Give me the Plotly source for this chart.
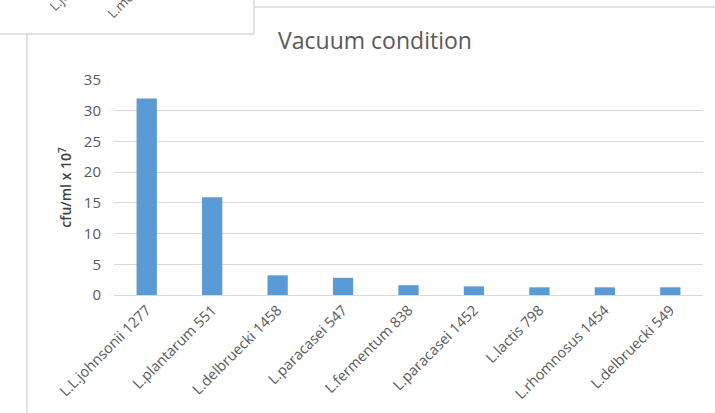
import plotly.graph_objects as go

categories = ["L.L.johnsonii 1277", "L.plantarum 551", "L.delbruecki 1458",
              "L.paracasei 547", "L.fermentum 838", "L.paracasei 1452",
              "L.lactis 798", "L.rhomnosus 1454", "L.delbruecki 549"]
values = [32, 15.9, 3.2, 2.8, 1.6, 1.4, 1.25, 1.25, 1.25]
y_ticks = [0, 5, 10, 15, 20, 25, 30, 35]
title_text = "Vacuum condition"
y_title = "cfu/ml x 10<sup>7</sup>"

W, H = 715, 413
L, R, T, B = 114, 12, 80, 118
pw, ph = W - L - R, H - T - B

def px(x):
    return (x - L) / pw

def py(y):
    return (H - B - y) / ph

FONT = "Open Sans"
GREY = "#595959"
LINE = "#d9d9d9"

fig = go.Figure(go.Bar(x=categories, y=values, marker=dict(color="#5b9bd5", line=dict(width=0))))

shapes = [
    dict(type="line", xref="paper", yref="paper", x0=px(0), x1=px(254), y0=py(34), y1=py(34), line=dict(color=LINE, width=1.5)),
    dict(type="line", xref="paper", yref="paper", x0=px(254), x1=px(254), y0=py(-5), y1=py(34), line=dict(color=LINE, width=1.5)),
    dict(type="line", xref="paper", yref="paper", x0=px(254), x1=px(716), y0=py(7), y1=py(7), line=dict(color=LINE, width=1.5)),
    dict(type="line", xref="paper", yref="paper", x0=px(27), x1=px(27), y0=py(34), y1=py(420), line=dict(color=LINE, width=1.5)),
]

annotations = [
    dict(text="L.johnsonii", xref="paper", yref="paper", x=px(75), y=py(-15), showarrow=False,
         textangle=-45, xanchor="center", yanchor="middle", font=dict(family=FONT, size=13, color=GREY)),
    dict(text="L.mesenteroides", xref="paper", yref="paper", x=px(145), y=py(-20), showarrow=False,
         textangle=-45, xanchor="center", yanchor="middle", font=dict(family=FONT, size=13, color=GREY)),
]

fig.update_layout(
    width=W, height=H,
    margin=dict(l=L, r=R, t=T, b=B, autoexpand=False),
    paper_bgcolor="white", plot_bgcolor="white",
    bargap=0.69,
    showlegend=False,
    title=dict(text=title_text, xref="container", x=375 / W, xanchor="center",
               yref="container", y=1 - 41 / H, yanchor="middle",
               font=dict(family=FONT, size=23, color=GREY)),
    font=dict(family=FONT, color=GREY),
    shapes=shapes,
    annotations=annotations,
    xaxis=dict(tickangle=-45, tickfont=dict(family=FONT, size=14.5, color=GREY),
               showline=True, linecolor=LINE, linewidth=1, showgrid=False, automargin=False,
               ticks=""),
    yaxis=dict(range=[0, 35], tickvals=y_ticks, showgrid=True, gridcolor=LINE, gridwidth=1,
               zeroline=False, showline=False, ticks="", ticklabelstandoff=12,
               tickfont=dict(family=FONT, size=15, color=GREY), automargin=False,
               title=dict(text=y_title, standoff=8, font=dict(family=FONT, size=14, color="#404040", weight=600))),
)

fig.write_html("out.html", config={"displayModeBar": False},
               post_script="document.body.style.margin='0';document.body.style.padding='0';")
